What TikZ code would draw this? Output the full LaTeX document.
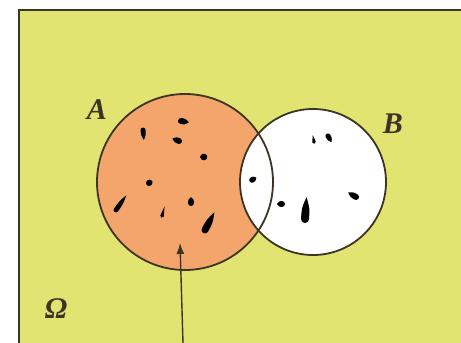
\documentclass[tikz,border=0pt]{standalone}
\usepackage{fontspec}
\setmainfont{Liberation Serif}
\usetikzlibrary{arrows.meta}
\definecolor{venny}{RGB}{225,228,112}
\definecolor{vorange}{RGB}{243,165,107}
\definecolor{vline}{RGB}{60,52,36}
\newcommand\inkdrop[5]{\fill[black,shift={(#1,#2)},rotate=#3] (0,#5) arc[start angle=90,end angle=270,radius=#5] .. controls (#4*0.5,-#5) .. (#4,0) .. controls (#4*0.5,#5) .. (0,#5) -- cycle;}
\begin{document}
\begin{tikzpicture}[x=1pt,y=-1pt,
  setcircle/.style={circle,inner sep=0pt,outer sep=0pt},
  outline/.style={draw=vline,line width=1.8pt},
  lbl/.style={text=vline,font=\fontsize{30}{36}\selectfont\bfseries\itshape,inner sep=0pt}]
\useasboundingbox (0,0) rectangle (461,343);
\fill[white] (0,0) rectangle (461,343);
\fill[venny] (19,10) rectangle (461,343);
\draw[vline,line width=1.6pt] (19,343) -- (19,10) -- (461,10);
% circles
\node[setcircle,minimum size=176pt,fill=vorange] (A) at (185,182) {};
\node[setcircle,minimum size=146pt,fill=white] (B) at (313,182) {};
\node[setcircle,minimum size=176pt,outline] at (A) {};
\node[setcircle,minimum size=146pt,outline] at (B) {};
% ink drops in A
\inkdrop{181}{121}{-10}{8}{3}
\inkdrop{143}{130}{-85}{10}{2.5}
\inkdrop{179}{141}{160}{7}{3}
\inkdrop{204}{157}{180}{4}{3.3}
\inkdrop{149}{183}{30}{4}{3}
\inkdrop{116}{210}{55}{18}{2.4}
\inkdrop{191}{203}{90}{6}{3}
\inkdrop{162}{216}{75}{10}{1.8}
\inkdrop{205}{230}{62}{20}{3.5}
% intersection
\inkdrop{252}{180}{30}{5}{2.8}
% in B
\inkdrop{314}{142}{100}{7}{1.8}
\inkdrop{328}{136}{-60}{7}{2.6}
\inkdrop{282}{204}{180}{5}{3}
\inkdrop{305}{219}{86}{22}{4}
\inkdrop{356}{197}{150}{9}{3}
% labels
\node[lbl] (labA) at (97,110) {A};
\node[lbl] (labB) at (393,124) {B};
\node[lbl] (labO) at (56,309) {Ω};
% arrow
\coordinate (tail) at (183,343);
\coordinate (tip) at (180,243);
\draw[vline,line width=1.4pt,-{Latex[length=11pt,width=8pt]}] (tail) -- (tip);
\end{tikzpicture}
\end{document}
